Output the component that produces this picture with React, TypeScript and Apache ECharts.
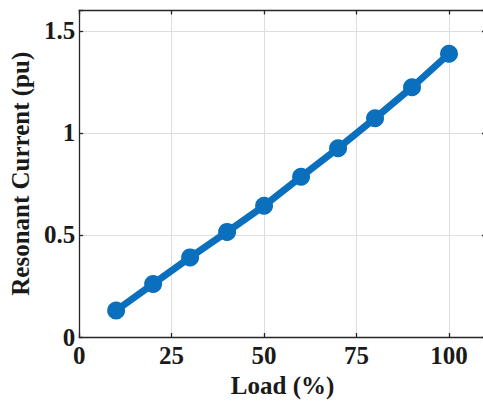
import React, { useEffect, useRef } from "react";
import * as echarts from "echarts";

const loadPct = [10, 20, 30, 40, 50, 60, 70, 80, 90, 100];
const resonantCurrent = [0.13, 0.26, 0.39, 0.515, 0.643, 0.785, 0.925, 1.072, 1.224, 1.388];
const xTicks = [0, 25, 50, 75, 100];
const yTicks = [0, 0.5, 1, 1.5];

export default function App() {
  const ref = useRef<HTMLDivElement>(null);
  useEffect(() => {
    if (!ref.current) return;
    const chart = echarts.init(ref.current, undefined, { renderer: "svg" });
    const font = "'Liberation Serif', 'Times New Roman', serif";
    const textStyle = { fontFamily: font, fontWeight: "bold" as const, fontSize: 25, color: "#1a1a1a" };
    const axisLine = { show: true, onZero: false, lineStyle: { color: "#262626", width: 1.3 } };
    const tick = { show: true, inside: true, length: 4, lineStyle: { color: "#262626", width: 1.3 } };
    chart.setOption({
      animation: false,
      grid: { left: 76.5, top: 10.5, right: 2, bottom: 66, containLabel: false },
      xAxis: [
        {
          type: "value",
          min: 0,
          max: 110,
          interval: 25,
          name: "Load (%)",
          nameLocation: "middle",
          nameGap: 36,
          nameTextStyle: textStyle,
          axisLine: axisLine,
          axisTick: tick,
          axisLabel: {
            ...textStyle,
            margin: 6,
            showMaxLabel: false,
            formatter: (v: number) => (xTicks.includes(v) ? String(v) : ""),
          },
          splitLine: { show: true, lineStyle: { color: "#dedede", width: 1 } },
        },
        {
          type: "value",
          position: "top",
          min: 0,
          max: 110,
          interval: 25,
          axisLine: axisLine,
          axisTick: tick,
          axisLabel: { show: false },
          splitLine: { show: false },
        },
      ],
      yAxis: [
        {
          type: "value",
          min: 0,
          max: 1.6,
          interval: 0.5,
          name: "Resonant Current (pu)",
          nameLocation: "middle",
          nameGap: 42,
          nameTextStyle: textStyle,
          axisLine: axisLine,
          axisTick: tick,
          axisLabel: {
            ...textStyle,
            margin: 4,
            formatter: (v: number) => (yTicks.includes(v) ? String(v) : ""),
          },
          splitLine: { show: true, lineStyle: { color: "#dedede", width: 1 } },
        },
        {
          type: "value",
          position: "right",
          min: 0,
          max: 1.6,
          interval: 0.5,
          axisLine: axisLine,
          axisTick: tick,
          axisLabel: { show: false },
          splitLine: { show: false },
        },
      ],
      series: [
        {
          type: "line",
          data: loadPct.map((x, i) => [x, resonantCurrent[i]]),
          symbol: "circle",
          symbolSize: 18,
          lineStyle: { color: "#0a70bd", width: 7 },
          itemStyle: { color: "#0a70bd" },
        },
      ],
    });
    return () => chart.dispose();
  }, []);
  return (
    <div style={{ position: "fixed", left: 0, top: 0, width: 483, height: 403, overflow: "hidden", background: "#fff" }}>
      <div ref={ref} style={{ width: 488, height: 403 }} />
    </div>
  );
}
